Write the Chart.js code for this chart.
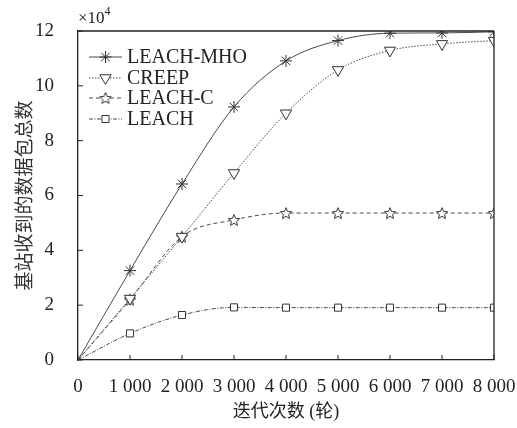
<!DOCTYPE html>
<html>
<head>
<meta charset="utf-8">
<script src="https://cdn.jsdelivr.net/npm/chart.js@4"></script>
<style>
  html, body { margin: 0; padding: 0; background: #fff; }
  #wrap { width: 517px; height: 428px; }
</style>
</head>
<body>
<div id="wrap"><canvas id="chartCanvas" width="517" height="428"></canvas></div>
<script>
// data (y in units of 10^4 packets)
const rounds = [0, 1000, 2000, 3000, 4000, 5000, 6000, 7000, 8000];
const leachMho = [0, 3.26, 6.42, 9.23, 10.91, 11.65, 11.92, 11.93, 11.97];
const creep = [0, 2.24, 4.5, 6.82, 9.0, 10.58, 11.29, 11.53, 11.65];
const leachC = [0, 2.2, 4.5, 5.11, 5.36, 5.36, 5.36, 5.36, 5.36];
const leach = [0, 0.97, 1.64, 1.92, 1.91, 1.91, 1.91, 1.91, 1.91];
const seriesNames = ['LEACH-MHO', 'CREEP', 'LEACH-C', 'LEACH'];
const yTicks = [0, 2, 4, 6, 8, 10, 12];

const serif = '"Liberation Serif", "Times New Roman", "Noto Sans CJK SC", serif';
const lineCol = '#4a4a4a';
const axisCol = '#222';

// five pointed star outline for LEACH-C
function makeStar(size) {
  const c = document.createElement('canvas');
  c.width = size; c.height = size;
  const g = c.getContext('2d');
  const cx = size / 2, cy = size / 2 + 0.6, R = size / 2 - 1, r = R * 0.45;
  g.beginPath();
  for (let i = 0; i < 10; i++) {
    const rad = i % 2 === 0 ? R : r;
    const a = -Math.PI / 2 + i * Math.PI / 5;
    const px = cx + rad * Math.cos(a), py = cy + rad * Math.sin(a);
    if (i === 0) g.moveTo(px, py); else g.lineTo(px, py);
  }
  g.closePath();
  g.fillStyle = '#fff';
  g.fill();
  g.lineWidth = 1;
  g.strokeStyle = '#333';
  g.stroke();
  return c;
}
const starImg = makeStar(14);

function pts(vals) {
  return rounds.map((x, i) => ({ x: x, y: vals[i] }));
}
function radii(r) {
  return rounds.map((x, i) => i === 0 ? 0 : r);
}

const styles = [
  { pointStyle: 'star', radius: 6, rotation: 0, dash: [], fill: lineCol },
  { pointStyle: 'triangle', radius: 6.5, rotation: 180, dash: [1.5, 1.5], fill: '#fff' },
  { pointStyle: starImg, radius: 7, rotation: 0, dash: [4, 3], fill: '#fff' },
  { pointStyle: 'rect', radius: 5, rotation: 0, dash: [4, 1.5, 1, 1.5], fill: '#fff' }
];
const allData = [leachMho, creep, leachC, leach];

// draws box, inward ticks, x10^4 and legend
const extras = {
  id: 'extras',
  afterDraw(chart) {
    const ctx = chart.ctx;
    const a = chart.chartArea;
    const xs = chart.scales.x, ys = chart.scales.y;
    ctx.save();
    ctx.strokeStyle = axisCol;
    ctx.lineWidth = 1.3;
    ctx.beginPath();
    ctx.moveTo(a.left, a.top); ctx.lineTo(a.right, a.top);
    ctx.moveTo(a.right, a.top); ctx.lineTo(a.right, a.bottom);
    ctx.stroke();
    ctx.lineWidth = 1;
    ctx.beginPath();
    rounds.forEach(v => {
      const px = xs.getPixelForValue(v);
      ctx.moveTo(px, a.bottom); ctx.lineTo(px, a.bottom - 5);
    });
    yTicks.forEach(v => {
      const py = ys.getPixelForValue(v);
      ctx.moveTo(a.left, py); ctx.lineTo(a.left + 5, py);
    });
    ctx.stroke();

    ctx.fillStyle = '#222';
    ctx.textBaseline = 'alphabetic';
    ctx.textAlign = 'left';
    ctx.font = '17px ' + serif;
    ctx.fillText('×10', a.left, 23);
    const w = ctx.measureText('×10').width;
    ctx.font = '12px ' + serif;
    ctx.fillText('4', a.left + w, 15);

    // legend
    const lx0 = 89, lx1 = 122, mx = 105.5;
    const ly = [57, 78, 98, 119];
    seriesNames.forEach((name, i) => {
      const s = styles[i];
      ctx.strokeStyle = lineCol;
      ctx.lineWidth = 1;
      ctx.setLineDash(s.dash);
      ctx.beginPath();
      ctx.moveTo(lx0, ly[i]); ctx.lineTo(lx1, ly[i]);
      ctx.stroke();
      ctx.setLineDash([]);
      ctx.fillStyle = s.fill;
      ctx.strokeStyle = '#333';
      Chart.helpers.drawPoint(ctx, {
        pointStyle: s.pointStyle, radius: s.radius, rotation: s.rotation, borderWidth: 1
      }, mx, ly[i]);
      ctx.fillStyle = '#222';
      ctx.font = '20px ' + serif;
      ctx.textBaseline = 'middle';
      ctx.fillText(name, 127, ly[i] + 1);
    });
    ctx.restore();
  }
};

const ctx = document.querySelector('#chartCanvas');
const graph = new Chart(ctx, {
  type: 'line',
  data: {
    datasets: seriesNames.map((name, i) => ({
      label: name,
      data: pts(allData[i]),
      borderColor: lineCol,
      borderWidth: 1,
      borderDash: styles[i].dash,
      cubicInterpolationMode: 'monotone',
      pointStyle: styles[i].pointStyle,
      pointRadius: radii(styles[i].radius),
      pointRotation: styles[i].rotation,
      pointBackgroundColor: styles[i].fill,
      pointBorderColor: '#333',
      pointBorderWidth: 1
    }))
  },
  options: {
    responsive: false,
    animation: false,
    layout: { padding: { left: 15, top: 31, right: 23, bottom: 0 } },
    plugins: {
      legend: { display: false },
      tooltip: { enabled: false }
    },
    scales: {
      x: {
        type: 'linear',
        min: 0,
        max: 8000,
        afterFit: (s) => { s.height = 68; s.paddingRight = 0; s.paddingLeft = 0; },
        ticks: {
          stepSize: 1000,
          color: '#222',
          padding: 8,
          maxRotation: 0,
          font: { family: serif, size: 19 },
          callback: (v) => v === 0 ? '0' : String(v).replace(/(\d)(?=(\d{3})$)/, '$1 ')
        },
        grid: { display: false },
        border: { display: true, color: axisCol, width: 1.3 },
        title: {
          display: true,
          text: '迭代次数 (轮)',
          color: '#222',
          font: { family: serif, size: 18 },
          padding: { top: 0, bottom: 5 }
        }
      },
      y: {
        min: 0,
        max: 12,
        afterFit: (s) => { s.width = 63; s.paddingTop = 0; s.paddingBottom = 0; },
        ticks: {
          stepSize: 2,
          color: '#222',
          padding: 16,
          font: { family: serif, size: 19 }
        },
        grid: { display: false },
        border: { display: true, color: axisCol, width: 1.3 },
        title: {
          display: true,
          text: '基站收到的数据包总数',
          color: '#333',
          font: { family: serif, size: 19 },
          padding: { top: 0, bottom: 0 }
        }
      }
    }
  },
  plugins: [extras]
});
</script>
</body>
</html>
